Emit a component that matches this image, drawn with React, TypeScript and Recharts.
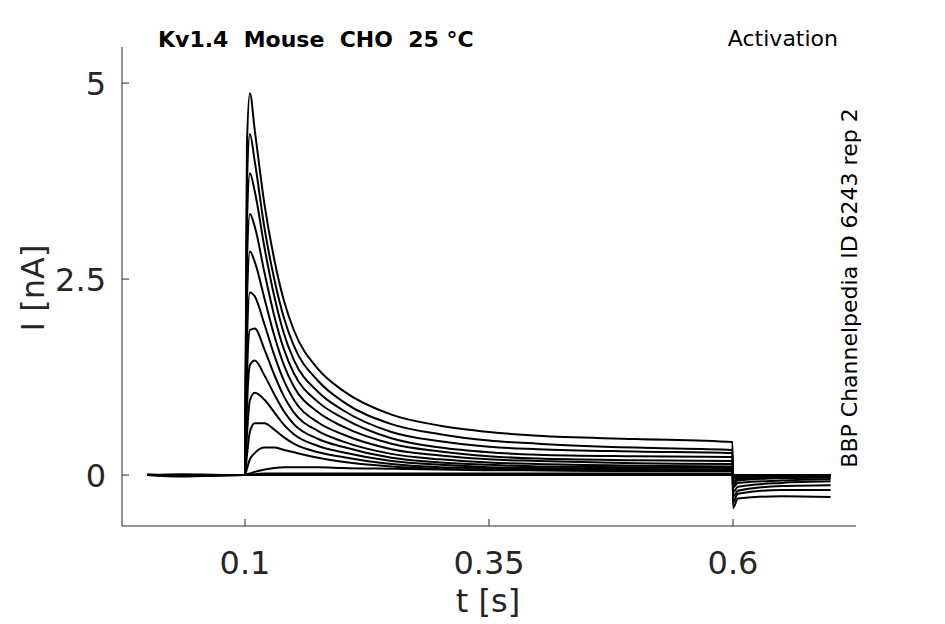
import { LineChart, Line, XAxis, YAxis } from 'recharts'

// sample times [s] and one current trace [nA] per voltage step
const times = [0, 0.035, 0.0995, 0.1, 0.102, 0.105, 0.11, 0.12, 0.13, 0.14, 0.15, 0.175, 0.2, 0.25, 0.3, 0.35, 0.4, 0.5, 0.5995, 0.6, 0.605, 0.65, 0.7]

const sweep1 = [0, -0.02, 0, 0, 4.2, 4.87, 4.4, 3.45, 2.75, 2.22, 1.85, 1.35, 1.08, 0.77, 0.63, 0.55, 0.5, 0.46, 0.42, -0.42, -0.3, -0.27, -0.28]
const sweep2 = [0.01, -0.01, 0, 0, 3.7, 4.35, 4.0, 3.15, 2.5, 2.0, 1.65, 1.2, 0.94, 0.65, 0.52, 0.44, 0.4, 0.35, 0.32, -0.35, -0.24, -0.19, -0.19]
const sweep3 = [0, 0.01, 0, 0, 3.2, 3.85, 3.62, 2.9, 2.28, 1.8, 1.47, 1.06, 0.83, 0.55, 0.43, 0.36, 0.33, 0.3, 0.28, -0.28, -0.2, -0.14, -0.13]
const sweep4 = [0, -0.01, 0, 0, 2.7, 3.33, 3.17, 2.58, 2.03, 1.6, 1.3, 0.93, 0.73, 0.47, 0.35, 0.29, 0.26, 0.24, 0.23, -0.22, -0.15, -0.1, -0.08]
const sweep5 = [0, 0, 0, 0, 2.2, 2.85, 2.72, 2.25, 1.78, 1.4, 1.13, 0.8, 0.62, 0.4, 0.3, 0.24, 0.21, 0.19, 0.18, -0.16, -0.1, -0.07, -0.05]
const sweep6 = [0, 0, 0, 0, 1.7, 2.33, 2.28, 1.92, 1.53, 1.2, 0.96, 0.67, 0.52, 0.33, 0.25, 0.2, 0.18, 0.15, 0.14, -0.12, -0.07, -0.04, -0.03]
const sweep7 = [0, 0, 0, 0, 1.25, 1.85, 1.87, 1.6, 1.28, 1.0, 0.8, 0.56, 0.43, 0.27, 0.2, 0.16, 0.14, 0.12, 0.11, -0.08, -0.05, -0.03, -0.02]
const sweep8 = [0, 0, 0, 0, 0.85, 1.4, 1.46, 1.27, 1.03, 0.81, 0.65, 0.46, 0.36, 0.22, 0.16, 0.13, 0.11, 0.1, 0.09, -0.05, -0.03, -0.02, -0.01]
const sweep9 = [0, 0, 0, 0, 0.5, 0.95, 1.05, 0.96, 0.8, 0.64, 0.52, 0.37, 0.29, 0.18, 0.13, 0.1, 0.09, 0.08, 0.07, -0.03, -0.02, -0.01, 0]
const sweep10 = [0, 0, 0, 0, 0.25, 0.55, 0.66, 0.66, 0.58, 0.48, 0.4, 0.29, 0.23, 0.14, 0.1, 0.09, 0.08, 0.07, 0.06, -0.02, -0.01, 0, 0]
const sweep11 = [0, 0, 0, 0, 0.08, 0.2, 0.28, 0.35, 0.35, 0.32, 0.29, 0.22, 0.17, 0.11, 0.08, 0.07, 0.06, 0.05, 0.05, -0.01, 0, 0, 0]
const sweep12 = [0, 0, 0, 0, 0.01, 0.02, 0.04, 0.07, 0.09, 0.1, 0.1, 0.1, 0.09, 0.08, 0.07, 0.06, 0.06, 0.05, 0.05, 0, 0, 0, 0]
const sweep13 = [0, 0, 0, 0, 0, 0.01, 0.01, 0.02, 0.02, 0.02, 0.02, 0.02, 0.02, 0.02, 0.02, 0.02, 0.02, 0.02, 0.02, 0, 0, 0, 0]
const sweep14 = [0, 0, 0, 0, 0, 0, 0, 0, 0, 0, 0, 0, 0, 0, 0, 0, 0, 0, 0, 0, 0, 0, 0]
const sweep15 = [0, 0, 0, 0, 0, 0, 0, 0, 0, 0, 0, 0, 0, 0, 0, 0, 0, 0, 0, 0, 0, 0, 0]

const sweeps = [sweep1, sweep2, sweep3, sweep4, sweep5, sweep6, sweep7, sweep8, sweep9, sweep10, sweep11, sweep12, sweep13, sweep14, sweep15]

const xTicks = [0.1, 0.35, 0.6]
const yTicks = [0, 2.5, 5]

const AXIS = '#262626'
const FONT = 'DejaVu Sans'

const chartData = times.map((t, i) => {
  const row: Record<string, number> = { t }
  sweeps.forEach((s, j) => {
    row['s' + j] = s[i]
  })
  return row
})

// inward tick marks, matlab style
const YTick = (props: any) => {
  const { x, y, payload } = props
  return (
    <g>
      <line x1={x} y1={y} x2={x + 7} y2={y} stroke={AXIS} />
      <text x={x - 16} y={y} dy="0.36em" textAnchor="end" fontSize={32} fill={AXIS} fontFamily={FONT}>
        {payload.value}
      </text>
    </g>
  )
}

const XTick = (props: any) => {
  const { x, y, payload } = props
  return (
    <g>
      <line x1={x} y1={y} x2={x} y2={y - 7} stroke={AXIS} />
      <text x={x} y={y + 48} textAnchor="middle" fontSize={32} fill={AXIS} fontFamily={FONT}>
        {payload.value}
      </text>
    </g>
  )
}

export default function App() {
  return (
    <div style={{ position: 'absolute', left: 0, top: 0, width: 945, height: 624, background: '#fff' }}>
      <LineChart width={945} height={624} data={chartData} margin={{ top: 47, right: 89, left: 62, bottom: 38 }}>
        <XAxis
          dataKey="t"
          type="number"
          domain={[-0.026, 0.726]}
          ticks={xTicks}
          height={60}
          tickSize={0}
          tickMargin={0}
          tickLine={false}
          tick={<XTick />}
          axisLine={{ stroke: AXIS }}
          allowDataOverflow
        />
        <YAxis
          type="number"
          domain={[-0.65, 5.46]}
          ticks={yTicks}
          width={60}
          tickSize={0}
          tickMargin={0}
          tickLine={false}
          tick={<YTick />}
          axisLine={{ stroke: AXIS }}
          allowDataOverflow
        />
        {sweeps.map((_, j) => (
          <Line
            key={j}
            dataKey={'s' + j}
            type="monotone"
            stroke="#000"
            strokeWidth={2}
            dot={false}
            activeDot={false}
            isAnimationActive={false}
          />
        ))}
      </LineChart>
      <svg width={945} height={624} style={{ position: 'absolute', left: 0, top: 0, pointerEvents: 'none' }}>
        <text x={158} y={47} fontSize={22} fontWeight="bold" fill="#000" fontFamily={FONT} style={{ whiteSpace: 'pre' }}>
          {'Kv1.4  Mouse  CHO  25 °C'}
        </text>
        <text x={838} y={46} fontSize={22} textAnchor="end" fill="#000" fontFamily={FONT}>
          Activation
        </text>
        <text transform="translate(857, 288) rotate(-90)" fontSize={22} textAnchor="middle" fill="#000" fontFamily={FONT}>
          BBP Channelpedia ID 6243 rep 2
        </text>
        <text transform="translate(44, 288) rotate(-90)" fontSize={32} textAnchor="middle" fill={AXIS} fontFamily={FONT}>
          I [nA]
        </text>
        <text x={488} y={612} fontSize={32} textAnchor="middle" fill={AXIS} fontFamily={FONT}>
          t [s]
        </text>
      </svg>
    </div>
  )
}
